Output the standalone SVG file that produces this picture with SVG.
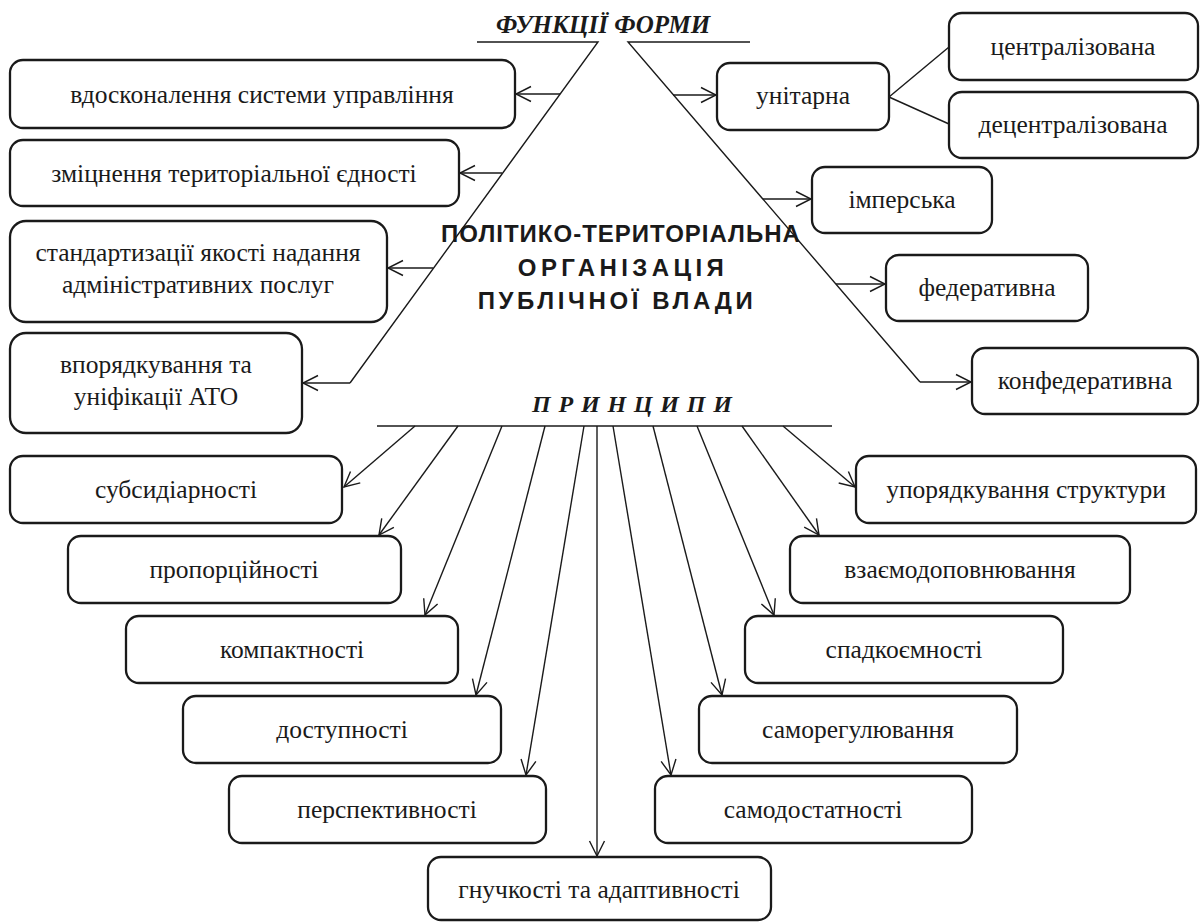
<svg xmlns="http://www.w3.org/2000/svg" width="1201" height="922" viewBox="0 0 1201 922">
<style>
.box{fill:#fff;stroke:#1a1a1a;stroke-width:2.3}
.t{font-family:"Liberation Serif","Times New Roman",serif;font-size:25.5px;fill:#1a1a1a;text-anchor:middle}
.c{fill:none;stroke:#1a1a1a;stroke-width:1.4}
.h{font-family:"Liberation Serif","Times New Roman",serif;font-weight:bold;font-style:italic;fill:#1a1a1a}
.m{font-family:"Liberation Sans",Arial,sans-serif;font-weight:bold;font-size:24px;fill:#1a1a1a;text-anchor:middle}
</style>
<defs>
<marker id="ah" markerWidth="18" markerHeight="18" refX="16" refY="9" orient="auto" markerUnits="userSpaceOnUse">
<path d="M1,1.5 L16,9 L1,16.5" fill="none" stroke="#1a1a1a" stroke-width="1.4"/>
</marker>
</defs>
<rect width="1201" height="922" fill="#fff"/>

<g id="title-functions">
<text class="h" x="603" y="33" font-size="25" text-anchor="middle">ФУНКЦІЇ ФОРМИ</text>
</g>
<g id="title-center">
<text class="m" x="621" y="242" letter-spacing="1">ПОЛІТИКО-ТЕРИТОРІАЛЬНА</text>
<text class="m" x="623" y="276" letter-spacing="4.4">ОРГАНІЗАЦІЯ</text>
<text class="m" x="617" y="309" letter-spacing="3.6">ПУБЛІЧНОЇ ВЛАДИ</text>
</g>
<g id="title-principles">
<text class="h" x="532" y="412" font-size="24" letter-spacing="7.8">ПРИНЦИПИ</text>
</g>

<g id="connectors">
<polyline class="c" points="477,42 598,42 350,383"/>
<polyline class="c" points="750,42 628,42 920,382"/>
<line class="c" x1="560" y1="94" x2="516" y2="94" marker-end="url(#ah)"/>
<line class="c" x1="502" y1="173" x2="460" y2="173" marker-end="url(#ah)"/>
<line class="c" x1="433" y1="268" x2="388" y2="268" marker-end="url(#ah)"/>
<line class="c" x1="350" y1="383" x2="303" y2="383" marker-end="url(#ah)"/>
<line class="c" x1="673" y1="95" x2="716" y2="95" marker-end="url(#ah)"/>
<line class="c" x1="763" y1="199" x2="811" y2="199" marker-end="url(#ah)"/>
<line class="c" x1="836" y1="284" x2="885" y2="284" marker-end="url(#ah)"/>
<line class="c" x1="920" y1="382" x2="971" y2="382" marker-end="url(#ah)"/>
<line class="c" x1="889" y1="97" x2="949" y2="47"/>
<line class="c" x1="889" y1="97" x2="949" y2="124"/>
<line class="c" x1="377" y1="426" x2="832" y2="426"/>
<line class="c" x1="415" y1="426" x2="344" y2="487" marker-end="url(#ah)"/>
<line class="c" x1="458" y1="426" x2="379" y2="535" marker-end="url(#ah)"/>
<line class="c" x1="502" y1="426" x2="425" y2="615" marker-end="url(#ah)"/>
<line class="c" x1="545" y1="426" x2="476" y2="695" marker-end="url(#ah)"/>
<line class="c" x1="584" y1="426" x2="526" y2="775" marker-end="url(#ah)"/>
<line class="c" x1="597" y1="426" x2="597" y2="856" marker-end="url(#ah)"/>
<line class="c" x1="613" y1="426" x2="671" y2="775" marker-end="url(#ah)"/>
<line class="c" x1="653" y1="426" x2="722" y2="695" marker-end="url(#ah)"/>
<line class="c" x1="697" y1="426" x2="774" y2="615" marker-end="url(#ah)"/>
<line class="c" x1="742" y1="426" x2="819" y2="535" marker-end="url(#ah)"/>
<line class="c" x1="783" y1="426" x2="855" y2="487" marker-end="url(#ah)"/>
</g>

<g id="f1"><rect class="box" x="10" y="60" width="505" height="68" rx="13"/><text class="t" x="262" y="103">вдосконалення системи управління</text></g>
<g id="f2"><rect class="box" x="10" y="140" width="449" height="66" rx="13"/><text class="t" x="234" y="182">зміцнення територіальної єдності</text></g>
<g id="f3"><rect class="box" x="10" y="221" width="377" height="101" rx="16"/><text class="t" x="198" y="261">стандартизації якості надання</text><text class="t" x="198" y="293">адміністративних послуг</text></g>
<g id="f4"><rect class="box" x="10" y="333" width="292" height="100" rx="16"/><text class="t" x="156" y="373">впорядкування та</text><text class="t" x="156" y="405">уніфікації АТО</text></g>

<g id="unitarna"><rect class="box" x="717" y="63" width="172" height="67" rx="13"/><text class="t" x="803" y="104">унітарна</text></g>
<g id="centr"><rect class="box" x="949" y="13" width="249" height="67" rx="13"/><text class="t" x="1073" y="55">централізована</text></g>
<g id="decentr"><rect class="box" x="949" y="92" width="249" height="66" rx="13"/><text class="t" x="1073" y="133">децентралізована</text></g>
<g id="imperska"><rect class="box" x="812" y="167" width="180" height="66" rx="13"/><text class="t" x="902" y="208">імперська</text></g>
<g id="federat"><rect class="box" x="886" y="255" width="202" height="66" rx="13"/><text class="t" x="987" y="296">федеративна</text></g>
<g id="konfed"><rect class="box" x="972" y="348" width="226" height="66" rx="13"/><text class="t" x="1085" y="389">конфедеративна</text></g>

<g id="p-subsid"><rect class="box" x="10" y="456" width="332" height="67" rx="13"/><text class="t" x="176" y="498">субсидіарності</text></g>
<g id="p-proporc"><rect class="box" x="68" y="536" width="333" height="67" rx="13"/><text class="t" x="234" y="578">пропорційності</text></g>
<g id="p-kompakt"><rect class="box" x="126" y="616" width="332" height="67" rx="13"/><text class="t" x="292" y="658">компактності</text></g>
<g id="p-dostup"><rect class="box" x="183" y="696" width="318" height="67" rx="13"/><text class="t" x="342" y="738">доступності</text></g>
<g id="p-perspekt"><rect class="box" x="229" y="776" width="317" height="67" rx="13"/><text class="t" x="387" y="818">перспективності</text></g>
<g id="p-gnuch"><rect class="box" x="428" y="857" width="343" height="63" rx="13"/><text class="t" x="599" y="898">гнучкості та адаптивності</text></g>
<g id="p-uporiad"><rect class="box" x="856" y="456" width="340" height="67" rx="13"/><text class="t" x="1026" y="498">упорядкування структури</text></g>
<g id="p-vzaemo"><rect class="box" x="790" y="536" width="340" height="67" rx="13"/><text class="t" x="960" y="578">взаємодоповнювання</text></g>
<g id="p-spadk"><rect class="box" x="745" y="616" width="318" height="67" rx="13"/><text class="t" x="904" y="658">спадкоємності</text></g>
<g id="p-samoreg"><rect class="box" x="699" y="696" width="318" height="67" rx="13"/><text class="t" x="858" y="738">саморегулювання</text></g>
<g id="p-samodost"><rect class="box" x="655" y="776" width="317" height="67" rx="13"/><text class="t" x="813" y="818">самодостатності</text></g>
</svg>
